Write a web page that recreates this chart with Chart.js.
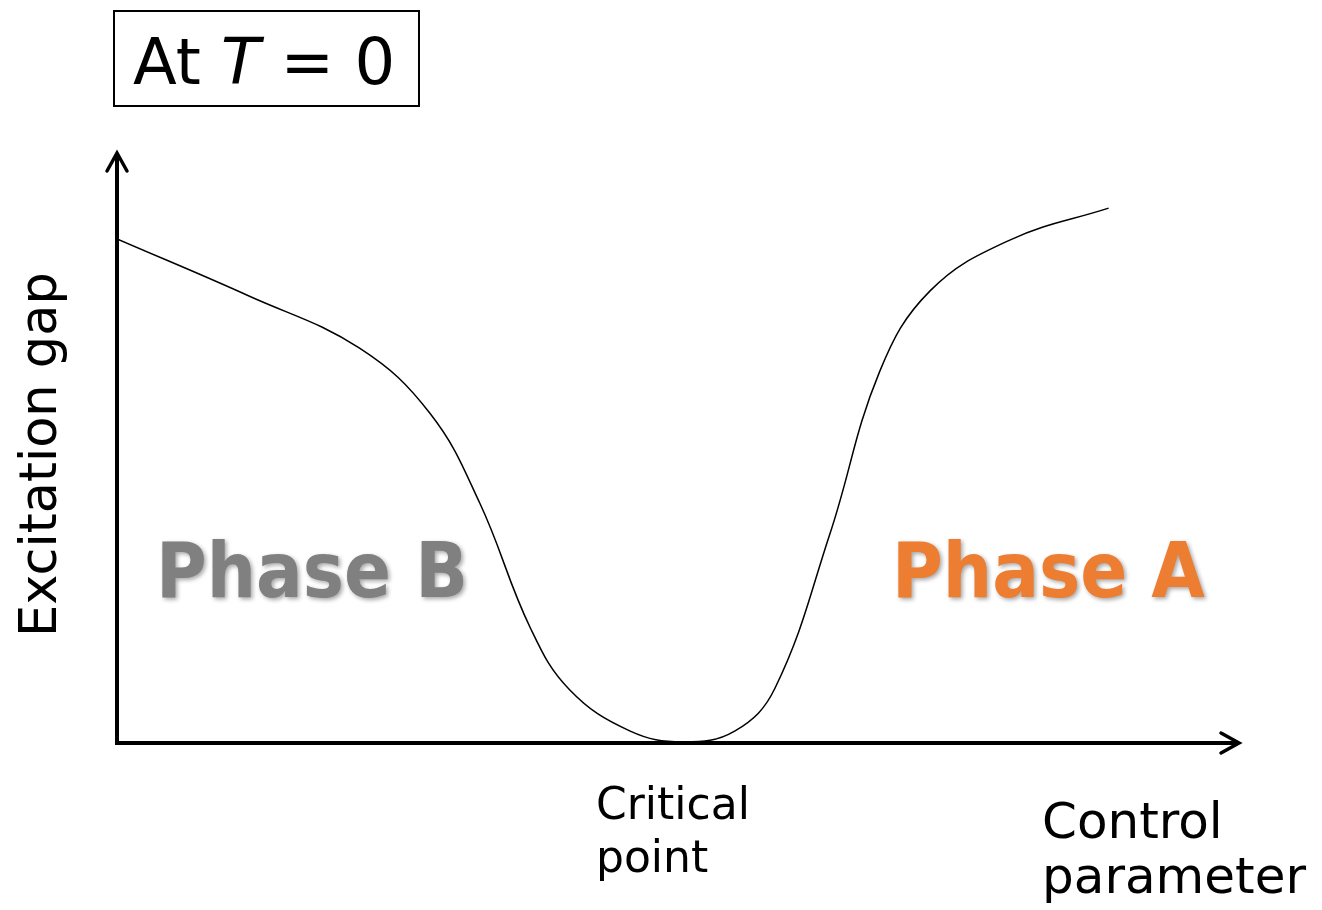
<!DOCTYPE html>
<html>
<head>
<meta charset="utf-8">
<script src="https://cdn.jsdelivr.net/npm/chart.js@4/dist/chart.umd.min.js"></script>
<style>
  html, body { margin: 0; padding: 0; background: #fff; }
  #wrap { width: 1322px; height: 910px; position: relative; }
</style>
</head>
<body>
<div id="wrap"><canvas id="c"></canvas></div>
<script>
// Control parameter (arbitrary units 0..10)
const controlParam = [0, 1.18, 2.16, 2.79, 3.23, 3.68, 4.03, 4.57, 5.04, 5.50, 5.86, 6.35, 6.79, 7.24, 7.95, 8.83];
// Excitation gap (arbitrary units 0..10)
const excitationGap = [8.53, 7.56, 6.68, 5.57, 4.06, 1.95, 0.90, 0.20, 0.02, 0.20, 0.93, 3.55, 6.28, 7.65, 8.51, 9.05];

const titleParts = ["At ", "T", " = 0"];
const yAxisLabel = "Excitation gap";
const xAxisLabelLines = ["Control", "parameter"];
const criticalLabelLines = ["Critical", "point"];
const phaseLabels = ["Phase B", "Phase A"];

const points = controlParam.map((x, i) => ({ x: x, y: excitationGap[i] }));

const decorPlugin = {
  id: 'decor',
  beforeDatasetsDraw(chart) {
    const ctx = chart.ctx;
    const xs = chart.scales.x, ys = chart.scales.y;
    const x0 = xs.getPixelForValue(0), y0 = ys.getPixelForValue(0);
    const xEnd = xs.getPixelForValue(10), yEnd = ys.getPixelForValue(10);
    ctx.save();
    ctx.strokeStyle = '#000';
    ctx.lineWidth = 4;
    ctx.lineCap = 'butt';
    ctx.beginPath();
    ctx.moveTo(x0, y0 + 2);
    ctx.lineTo(x0, yEnd + 1);
    ctx.stroke();
    ctx.beginPath();
    ctx.moveTo(x0 - 2, y0);
    ctx.lineTo(xEnd - 1, y0);
    ctx.stroke();
    ctx.lineWidth = 3.5;
    ctx.lineCap = 'round';
    ctx.lineJoin = 'miter';
    ctx.beginPath();
    ctx.moveTo(x0 - 10, yEnd + 19);
    ctx.lineTo(x0, yEnd + 1);
    ctx.lineTo(x0 + 10, yEnd + 19);
    ctx.stroke();
    ctx.beginPath();
    ctx.moveTo(xEnd - 19, y0 - 10);
    ctx.lineTo(xEnd - 1, y0);
    ctx.lineTo(xEnd - 19, y0 + 10);
    ctx.stroke();
    ctx.restore();
  },
  afterDraw(chart) {
    const ctx = chart.ctx;
    ctx.save();
    ctx.fillStyle = '#000';
    ctx.textBaseline = 'alphabetic';
    ctx.textAlign = 'left';

    ctx.lineWidth = 2;
    ctx.strokeStyle = '#000';
    ctx.strokeRect(114, 11, 305, 95);
    let tx = 133;
    const fN = '64px "DejaVu Sans"';
    const fI = 'oblique 64px "DejaVu Sans"';
    titleParts.forEach((p, i) => {
      ctx.font = (i === 1) ? fI : fN;
      ctx.fillText(p, tx, 84);
      tx += ctx.measureText(p).width;
    });

    ctx.save();
    ctx.translate(56, 637);
    ctx.rotate(-Math.PI / 2);
    ctx.font = '51px "DejaVu Sans"';
    ctx.fillText(yAxisLabel, 0, 0);
    ctx.restore();

    ctx.font = '44px "DejaVu Sans"';
    ctx.fillText(criticalLabelLines[0], 596, 819);
    ctx.fillText(criticalLabelLines[1], 596, 872);

    ctx.font = '50px "DejaVu Sans"';
    ctx.fillText(xAxisLabelLines[0], 1042, 838);
    ctx.fillText(xAxisLabelLines[1], 1042, 893);

    ctx.font = 'bold 76px "DejaVu Sans"';
    ctx.shadowColor = 'rgba(0,0,0,0.35)';
    ctx.shadowBlur = 4;
    ctx.shadowOffsetX = 2;
    ctx.shadowOffsetY = 2;
    ctx.fillStyle = '#808080';
    ctx.fillText(phaseLabels[0], 156, 597, 312);
    ctx.fillStyle = '#ED7D31';
    ctx.fillText(phaseLabels[1], 892, 597, 313);
    ctx.restore();
  }
};

new Chart(document.getElementById('c'), {
  type: 'line',
  data: {
    datasets: [{
      data: points,
      borderColor: '#000',
      borderWidth: 1.5,
      pointRadius: 0,
      fill: false,
      tension: 0.4
    }]
  },
  options: {
    responsive: true,
    maintainAspectRatio: false,
    animation: false,
    layout: { padding: { left: 117, right: 82, top: 152, bottom: 167 } },
    plugins: { legend: { display: false }, tooltip: { enabled: false } },
    scales: {
      x: { type: 'linear', min: 0, max: 10, display: false },
      y: { min: 0, max: 10, display: false }
    }
  },
  plugins: [decorPlugin]
});
</script>
</body>
</html>
